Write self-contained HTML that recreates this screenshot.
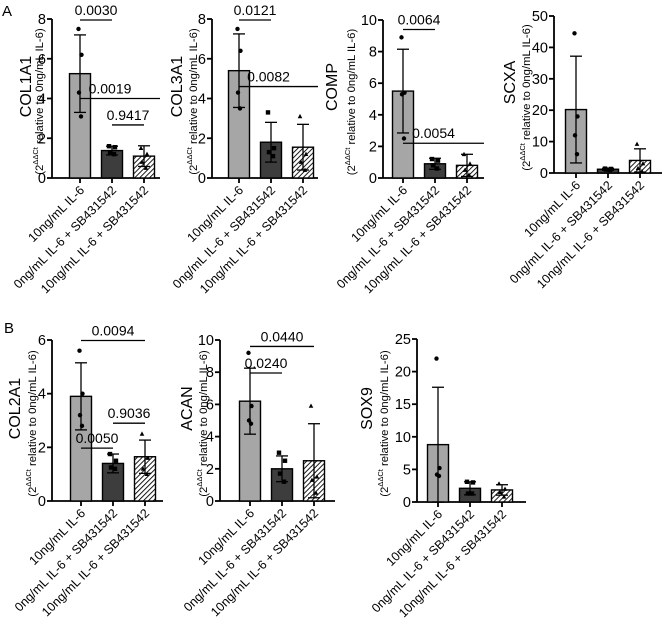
<!DOCTYPE html>
<html><head><meta charset="utf-8"><style>
html,body{margin:0;padding:0;background:#fff;}
svg{display:block;font-family:"Liberation Sans",Arial,sans-serif;}
</style></head><body>
<svg id="fig" width="669" height="624" viewBox="0 0 669 624" xmlns="http://www.w3.org/2000/svg">
<defs>
<pattern id="hatch" patternUnits="userSpaceOnUse" width="3.5" height="3.5" patternTransform="rotate(45)">
<rect width="3.5" height="3.5" fill="#fff"/><line x1="0" y1="0" x2="0" y2="3.5" stroke="#000" stroke-width="1.8"/>
</pattern>
</defs>
<text x="2" y="16" font-size="15">A</text>
<text x="4" y="333" font-size="15">B</text>
</svg>
<script>
const groups = ["10ng/mL IL-6", "0ng/mL IL-6 + SB431542", "10ng/mL IL-6 + SB431542"];
const genes = ["COL1A1","COL3A1","COMP","SCXA","COL2A1","ACAN","SOX9"];
const yMaxes = [8, 8, 10, 50, 6, 10, 25];
const yTickSteps = [2, 2, 2, 10, 2, 2, 5];
const means = [[5.25,1.38,1.1],[5.4,1.8,1.55],[5.5,0.9,0.8],[20.2,1.2,4.0],[3.9,1.4,1.65],[6.2,2.0,2.5],[8.8,2.1,1.85]];
const sds = [[1.95,0.22,0.52],[1.85,1.0,1.15],[2.65,0.35,0.7],[17,0.3,3.7],[1.25,0.35,0.62],[2.05,0.8,2.3],[8.8,1.0,0.8]];
const points = [
 [[7.5,6.2,4.3,3.1],[1.6,1.55,1.3,1.2],[1.5,1.2,0.8,0.5]],
 [[7.5,6.4,4.3,3.5],[3.3,1.5,1.3,1.1],[3.1,1.2,0.8,0.4]],
 [[8.9,5.4,5.3,2.5],[1.2,1.1,0.8,0.6],[1.5,0.9,0.5,0.2]],
 [[44.5,18,12,6],[1.4,1.3,1.1,1.0],[9.2,3,1.5,0.5]],
 [[5.6,4.0,3.2,2.8],[1.75,1.5,1.25,1.2],[2.5,1.6,1.2,1.0]],
 [[9.2,5.9,5.0,4.8],[3.0,2.5,1.7,1.2],[5.9,1.5,1.3,0.5]],
 [[22,5.2,4.2,4.0],[3.1,3.0,1.3,1.3],[2.8,2.0,1.5,0.8]]
];
// brackets: [fromBar, toBar, yValue, label]  (toBar 3 = end of axis)
const brackets = [
 [[0,1,7.95,"0.0030"],[0,3,4.0,"0.0019"],[1,2,2.67,"0.9417"]],
 [[0,1,7.95,"0.0121"],[0,3,4.6,"0.0082"]],
 [[0,1,9.4,"0.0064"],[0,3,2.2,"0.0054"]],
 [],
 [[0,2,5.98,"0.0094"],[1,2,2.9,"0.9036"],[0,1,1.97,"0.0050"]],
 [[0,2,9.6,"0.0440"],[0,1,7.95,"0.0240"]],
 []
];
// layout (not data)
const L = [
 {ax:52,x0:80,y0:178,yt:19,xe:160,g:21,s:9},
 {ax:212,x0:239,y0:178,yt:19,xe:318,g:30,s:15},
 {ax:383,x0:403,y0:178,yt:20,xe:484,g:46,s:28},
 {ax:554,x0:576,y0:173,yt:16,xe:662,g:39,s:24},
 {ax:52,x0:81,y0:501,yt:340,xe:163,g:32,s:16},
 {ax:220,x0:250,y0:501,yt:340,xe:335,g:28,s:13},
 {ax:417,x0:438,y0:502,yt:339,xe:526,g:45,s:29}
];
const NS="http://www.w3.org/2000/svg";
const svg=document.getElementById('fig');
function mk(tag,attrs,parent,txt){const e=document.createElementNS(NS,tag);for(const k in attrs)e.setAttribute(k,attrs[k]);if(txt!==undefined)e.textContent=txt;(parent||svg).appendChild(e);return e;}
const fills=["#a6a6a6","#3d3d3d","url(#hatch)"];
const jit=[-3,3,-2,2];
genes.forEach((gene,i)=>{
 const c=L[i];
 const g=mk('g',{});
 
 
 const ys=v=>c.y0-(v/yMaxes[i])*(c.y0-c.yt);
 const xs=b=>c.x0+b*32;
 const ya=mk('line',{x1:c.ax,y1:c.yt,x2:c.ax,y2:c.y0,stroke:'#000','stroke-width':1.8},g);
 
 
 const xa=mk('line',{x1:c.ax,y1:c.y0,x2:c.xe,y2:c.y0,stroke:'#000','stroke-width':1.8},g);
 
 
 for(let v=0;v<=yMaxes[i]+1e-9;v+=yTickSteps[i]){
  mk('line',{x1:c.ax-5,y1:ys(v),x2:c.ax,y2:ys(v),stroke:'#000','stroke-width':1.8},g);
  const t=mk('text',{x:c.ax-6,y:ys(v)+5,'font-size':14.5,'text-anchor':'end'},g,String(v));
  
  
 }
 const cy=(c.y0+c.yt)/2;
 const gt=mk('text',{transform:`translate(${c.ax-c.g},${cy-12}) rotate(-90)`,'font-size':16,'text-anchor':'middle'},g,gene);
 
 
 const st=mk('text',{transform:`translate(${c.ax-c.s},${cy+3}) rotate(-90)`,'font-size':11.3,'text-anchor':'middle'},g);
 
 
 mk('tspan',{},st,'(2');
 mk('tspan',{dy:-5,'font-size':7.5},st,'ΔΔCt');
 mk('tspan',{dy:5},st,' relative to 0ng/mL IL-6)');
 groups.forEach((grp,b)=>{
  const x=xs(b), m=means[i][b], sd=sds[i][b];
  const r=mk('rect',{x:x-10.5,y:ys(m),width:21,height:c.y0-ys(m),fill:fills[b],stroke:'#000','stroke-width':1.4},g);
  
  
  const lo=Math.max(0,m-sd);
  mk('line',{x1:x,y1:ys(m+sd),x2:x,y2:ys(lo),stroke:'#000','stroke-width':1.3},g);
  mk('line',{x1:x-6,y1:ys(m+sd),x2:x+6,y2:ys(m+sd),stroke:'#000','stroke-width':1.3},g);
  mk('line',{x1:x-6,y1:ys(lo),x2:x+6,y2:ys(lo),stroke:'#000','stroke-width':1.3},g);
  points[i][b].forEach((p,k)=>{
   let d;
   if(b===0) d=mk('circle',{cx:x+jit[k]*0.5,cy:ys(p),r:2.2,fill:'#000'},g);
   else if(b===1) d=mk('rect',{x:x+jit[k]-2.2,y:ys(p)-2.2,width:4.4,height:4.4,fill:'#000'},g);
   else d=mk('polygon',{points:`${x+jit[k]},${ys(p)-2.5} ${x+jit[k]-2.3},${ys(p)+1.8} ${x+jit[k]+2.3},${ys(p)+1.8}`,fill:'#000'},g);
   
   
  });
  mk('line',{x1:x,y1:c.y0,x2:x,y2:c.y0+5,stroke:'#000','stroke-width':1.8},g);
  const lt=mk('text',{transform:`translate(${x+5},${c.y0+13}) rotate(-45)`,'font-size':12.5,'text-anchor':'end'},g,grp);
  
  
 });
 brackets[i].forEach(br=>{
  const x1=xs(br[0]), x2=br[1]===3?c.xe:xs(br[1]), y=ys(br[2]);
  const l=mk('line',{x1:x1,y1:y,x2:x2,y2:y,stroke:'#000','stroke-width':1.3},g);
  
  
  const tx=br[1]===3?(x1+x2)/2-10:(x1+x2)/2;
  const t=mk('text',{x:tx,y:y-5,'font-size':14,'text-anchor':'middle'},g,br[3]);
  
  
 });
});
</script>
</body></html>
